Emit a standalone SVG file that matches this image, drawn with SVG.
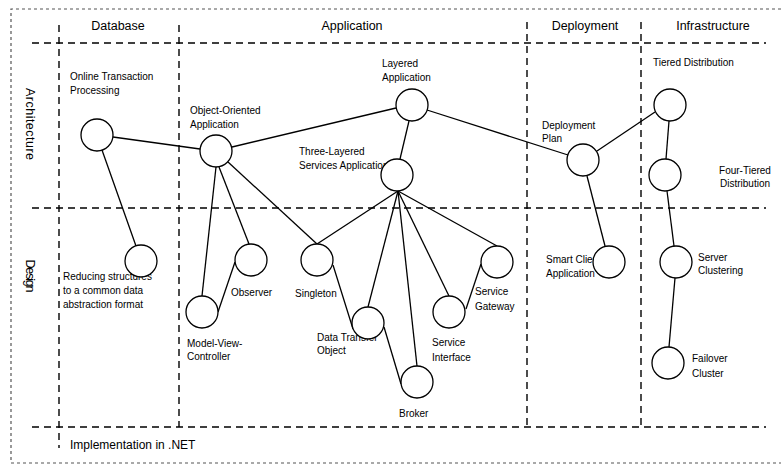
<svg xmlns="http://www.w3.org/2000/svg" width="781" height="466" viewBox="0 0 781 466">
<style>
text{font-family:"Liberation Sans",Arial,sans-serif;fill:#000}
.hd{font-size:12.5px}
.lb{font-size:10px}
.grid{stroke:#000;stroke-width:1.4;stroke-dasharray:7 5;fill:none}
.outer{stroke:#555;stroke-width:1.2;stroke-dasharray:3 3;fill:none}
.c{fill:#fff;stroke:#000;stroke-width:1.3}
.e{stroke:#000;stroke-width:1.3;fill:none}
</style>
<rect width="781" height="466" fill="#fff"/>
<g id="frame">
<path class="outer" d="M781 9H11V463H781"/>
<path class="grid" d="M32 43H766M32 208H766M32 427H766"/>
<path class="grid" d="M59 25V448M179 25V427M527 22V427M641 22V427"/>
</g>
<g id="headers">
<text class="hd" x="118" y="30" text-anchor="middle">Database</text>
<text class="hd" x="352" y="30" text-anchor="middle">Application</text>
<text class="hd" x="585" y="30" text-anchor="middle">Deployment</text>
<text class="hd" x="713" y="30" text-anchor="middle">Infrastructure</text>
<text class="hd" transform="translate(26,124) rotate(90)" text-anchor="middle" textLength="72">Architecture</text>
<text class="hd" transform="translate(26,276) rotate(90)" text-anchor="middle" textLength="33">Design</text>
<text x="70" y="449" style="font-size:12px">Implementation in  .NET</text>
</g>
<g id="connectors">
<line class="e" x1="113" y1="137" x2="200" y2="149"/>
<line class="e" x1="102" y1="150" x2="136" y2="246"/>
<line class="e" x1="232" y1="147" x2="396" y2="108"/>
<line class="e" x1="409" y1="121" x2="400" y2="159"/>
<line class="e" x1="427" y1="110" x2="568" y2="155"/>
<line class="e" x1="597" y1="151" x2="655" y2="112"/>
<line class="e" x1="669" y1="121" x2="666" y2="159"/>
<line class="e" x1="667" y1="191" x2="674" y2="246"/>
<line class="e" x1="675" y1="278" x2="669" y2="347"/>
<line class="e" x1="587" y1="176" x2="605" y2="246"/>
<line class="e" x1="216" y1="167" x2="202" y2="296"/>
<line class="e" x1="219" y1="167" x2="249" y2="244"/>
<line class="e" x1="228" y1="162" x2="317" y2="244"/>
<line class="e" x1="218" y1="312" x2="235" y2="262"/>
<line class="e" x1="398" y1="191" x2="317" y2="244"/>
<line class="e" x1="398" y1="191" x2="368" y2="307"/>
<line class="e" x1="398" y1="191" x2="417" y2="366"/>
<line class="e" x1="398" y1="191" x2="449" y2="296"/>
<line class="e" x1="398" y1="191" x2="497" y2="246"/>
<line class="e" x1="333" y1="265" x2="353" y2="329"/>
<line class="e" x1="384" y1="327" x2="401" y2="384"/>
<line class="e" x1="466" y1="309" x2="481" y2="264"/>
</g>
<g id="oltp"><text class="lb" x="70" y="80">Online Transaction</text><text class="lb" x="70" y="94">Processing</text><circle class="c" cx="97" cy="135" r="16"/></g>
<g id="ooapp"><text class="lb" x="190" y="114">Object-Oriented</text><text class="lb" x="190" y="128">Application</text><circle class="c" cx="216" cy="151" r="16"/></g>
<g id="layered"><text class="lb" x="382" y="67">Layered</text><text class="lb" x="382" y="81">Application</text><circle class="c" cx="412" cy="105" r="16"/></g>
<g id="threelayered"><text class="lb" x="299" y="155">Three-Layered</text><text class="lb" x="299" y="169">Services Application</text><circle class="c" cx="397" cy="175" r="16"/></g>
<g id="deployplan"><text class="lb" x="542" y="129">Deployment</text><text class="lb" x="542" y="142">Plan</text><circle class="c" cx="583" cy="160" r="16"/></g>
<g id="tiered"><text class="lb" x="653" y="66">Tiered Distribution</text><circle class="c" cx="670" cy="105" r="16"/></g>
<g id="fourtiered"><text class="lb" x="745" y="174" text-anchor="middle">Four-Tiered</text><text class="lb" x="745" y="187" text-anchor="middle">Distribution</text><circle class="c" cx="665" cy="175" r="16"/></g>
<g id="reducing"><text class="lb" x="63" y="280">Reducing structures</text><text class="lb" x="63" y="294">to a common data</text><text class="lb" x="63" y="308">abstraction format</text><circle class="c" cx="141" cy="261" r="16"/></g>
<g id="observer"><text class="lb" x="231" y="296">Observer</text><circle class="c" cx="251" cy="260" r="16"/></g>
<g id="mvc"><text class="lb" x="187" y="347">Model-View-</text><text class="lb" x="187" y="360">Controller</text><circle class="c" cx="202" cy="312" r="16"/></g>
<g id="singleton"><text class="lb" x="295" y="297">Singleton</text><circle class="c" cx="317" cy="260" r="16"/></g>
<g id="dto"><text class="lb" x="317" y="341">Data Transfer</text><text class="lb" x="317" y="354">Object</text><circle class="c" cx="368" cy="323" r="16"/></g>
<g id="broker"><text class="lb" x="399" y="417">Broker</text><circle class="c" cx="417" cy="382" r="16"/></g>
<g id="serviceinterface"><text class="lb" x="432" y="346">Service</text><text class="lb" x="432" y="361">Interface</text><circle class="c" cx="449" cy="312" r="16"/></g>
<g id="servicegateway"><text class="lb" x="475" y="295">Service</text><text class="lb" x="475" y="310">Gateway</text><circle class="c" cx="497" cy="262" r="16"/></g>
<g id="smartclient"><text class="lb" x="546" y="263">Smart Client</text><text class="lb" x="546" y="277">Application</text><circle class="c" cx="609" cy="262" r="16"/></g>
<g id="serverclustering"><text class="lb" x="698" y="261">Server</text><text class="lb" x="698" y="274">Clustering</text><circle class="c" cx="676" cy="262" r="16"/></g>
<g id="failover"><text class="lb" x="692" y="362">Failover</text><text class="lb" x="692" y="377">Cluster</text><circle class="c" cx="668" cy="363" r="16"/></g>
</svg>
